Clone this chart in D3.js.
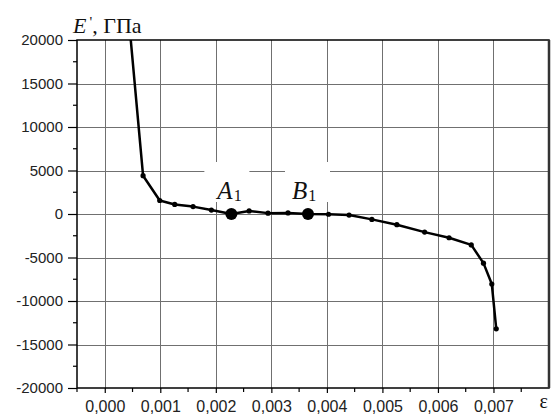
<!DOCTYPE html>
<html>
<head>
<meta charset="utf-8">
<script src="https://cdn.jsdelivr.net/npm/d3@7"></script>
<style>
  html, body { margin: 0; padding: 0; background: #fff; }
  svg { display: block; }
</style>
</head>
<body>
<svg id="chart" width="551" height="414"></svg>
<script>
// Strain values ε and storage modulus E' (GPa)
const strain = [0.0004, 0.00069, 0.00099, 0.00126, 0.00159, 0.00192, 0.00228, 0.0026, 0.00294, 0.0033,
                0.00366, 0.00403, 0.0044, 0.00481, 0.00526, 0.00576, 0.0062, 0.0066, 0.00682, 0.00697, 0.00705];
const modulus = [24800, 4400, 1550, 1100, 850, 450, 0, 350, 100, 120,
                 0, -30, -120, -620, -1230, -2080, -2730, -3550, -5650, -8050, -13200];

// Marked points on the curve
const markNames = ["A", "B"];
const markStrain = [0.00228, 0.00366];
const markModulus = [0, 0];

const xTicks = [0, 0.001, 0.002, 0.003, 0.004, 0.005, 0.006, 0.007];
const yTicks = [-20000, -15000, -10000, -5000, 0, 5000, 10000, 15000, 20000];

const pLeft = 77, pRight = 549, pTop = 40, pBottom = 388;

const svg = d3.select("#chart");
const x = d3.scaleLinear().domain([-0.0005, 0.008]).range([pLeft, pRight]);
const y = d3.scaleLinear().domain([-20000, 20000]).range([pBottom, pTop]);

const sans = "Arial, 'Liberation Sans', sans-serif";
const serif = "'Times New Roman', 'Liberation Serif', serif";

// grid
const grid = svg.append("g").attr("stroke", "#707070").attr("stroke-width", 1);
grid.selectAll("line.v").data(xTicks).join("line")
  .attr("x1", d => Math.round(x(d)) + 0.5).attr("x2", d => Math.round(x(d)) + 0.5)
  .attr("y1", pTop).attr("y2", pBottom);
grid.selectAll("line.h").data(yTicks.filter(d => d > -20000 && d < 20000)).join("line")
  .attr("y1", d => Math.round(y(d)) + 0.5).attr("y2", d => Math.round(y(d)) + 0.5)
  .attr("x1", pLeft).attr("x2", pRight);

// white label boxes
const boxes = svg.append("g");
markStrain.forEach((s, i) => {
  const cx = x(s);
  boxes.append("rect")
    .attr("x", cx - (i === 0 ? 27 : 23)).attr("y", y(0) - 52)
    .attr("width", 45).attr("height", 40)
    .attr("fill", "#fff");
});

// minor ticks
const minorX = d3.range(-0.0005, 0.0080001, 0.0005).filter(v => Math.abs(Math.round(v * 1000) - v * 1000) > 1e-6);
svg.append("g").selectAll("line").data(minorX).join("line")
  .attr("x1", d => x(d)).attr("x2", d => x(d))
  .attr("y1", pBottom).attr("y2", pBottom + 4)
  .attr("stroke", "#000").attr("stroke-width", 1.2);
const minorY = d3.range(-17500, 20000, 5000);
svg.append("g").selectAll("line").data(minorY).join("line")
  .attr("y1", d => y(d)).attr("y2", d => y(d))
  .attr("x1", pLeft - 4).attr("x2", pLeft)
  .attr("stroke", "#000").attr("stroke-width", 1.2);

// axes
const xAxis = d3.axisBottom(x).tickValues(xTicks).tickSize(5).tickPadding(8)
  .tickFormat(d => d3.format(".3f")(d).replace(".", ","));
const gx = svg.append("g").attr("transform", `translate(0,${pBottom})`).call(xAxis);
gx.select(".domain").remove();
gx.selectAll("line").attr("stroke", "#000").attr("stroke-width", 1.2);
gx.selectAll("text").attr("font-family", sans).attr("font-size", 16).attr("fill", "#222");

const yAxis = d3.axisLeft(y).tickValues(yTicks).tickSize(9).tickPadding(5)
  .tickFormat(d => String(d));
const gy = svg.append("g").attr("transform", `translate(${pLeft},0)`).call(yAxis);
gy.select(".domain").remove();
gy.selectAll("line").attr("stroke", "#000").attr("stroke-width", 1.2);
gy.selectAll("text").attr("font-family", sans).attr("font-size", 15).attr("fill", "#222");

// frame
svg.append("rect").attr("x", pLeft).attr("y", pTop)
  .attr("width", pRight - pLeft).attr("height", pBottom - pTop)
  .attr("fill", "none").attr("stroke", "#000").attr("stroke-width", 1.5);
svg.append("line").attr("x1", pRight).attr("x2", pRight).attr("y1", pTop).attr("y2", pBottom)
  .attr("stroke", "#333").attr("stroke-width", 2.5);

// curve
svg.append("clipPath").attr("id", "plot-clip").append("rect")
  .attr("x", pLeft).attr("y", pTop).attr("width", pRight - pLeft).attr("height", pBottom - pTop);
const pts = strain.map((s, i) => [s, modulus[i]]);
const plot = svg.append("g").attr("clip-path", "url(#plot-clip)");
plot.append("path")
  .attr("d", d3.line().x(d => x(d[0])).y(d => y(d[1]))(pts))
  .attr("fill", "none").attr("stroke", "#000").attr("stroke-width", 2.5)
  .attr("stroke-linejoin", "round");
plot.selectAll("circle.pt").data(pts).join("circle")
  .attr("cx", d => x(d[0])).attr("cy", d => y(d[1])).attr("r", 2.6).attr("fill", "#000");
plot.selectAll("circle.mk").data(markStrain).join("circle")
  .attr("cx", d => x(d)).attr("cy", (d, i) => y(markModulus[i])).attr("r", 6).attr("fill", "#000");

// point labels
markStrain.forEach((s, i) => {
  const t = svg.append("text")
    .attr("x", x(s) + (i === 0 ? -14 : -16)).attr("y", y(0) - 15)
    .attr("font-family", serif).attr("font-size", 25).attr("fill", "#111");
  t.append("tspan").attr("font-style", "italic").text(markNames[i]);
  t.append("tspan").attr("font-size", 16).attr("dx", 1).attr("dy", 2).text("1");
});

// axis titles
const title = svg.append("text").attr("x", 73).attr("y", 33)
  .attr("font-family", serif).attr("font-size", 22).attr("fill", "#111");
title.append("tspan").attr("font-style", "italic").text("E");
title.append("tspan").attr("font-size", 15).attr("dx", 3).attr("dy", -6).text("'");
title.append("tspan").attr("dy", 6).text(", ГПа");

svg.append("text").attr("x", 548).attr("y", 408).attr("text-anchor", "end")
  .attr("font-family", serif).attr("font-size", 20).attr("fill", "#111").text("ε");
</script>
</body>
</html>
